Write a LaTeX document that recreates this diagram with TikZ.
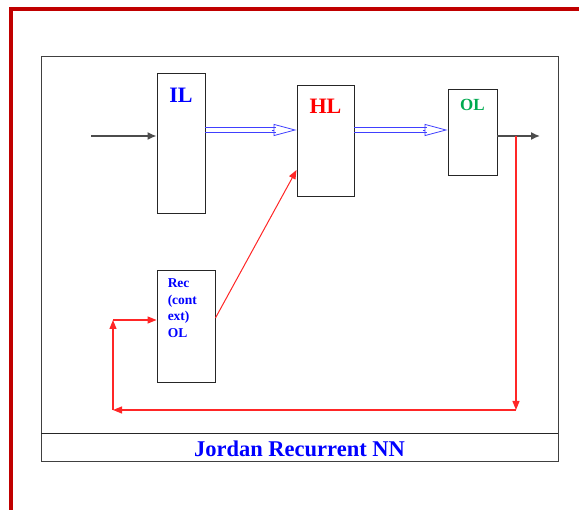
\documentclass[tikz,border=0pt]{standalone}
\usepackage{fontspec}
\setmainfont{Liberation Serif}
\usetikzlibrary{arrows.meta, positioning}
\definecolor{framered}{RGB}{192,0,0}
\definecolor{olgreen}{RGB}{0,170,80}

\begin{document}
\begin{tikzpicture}[x=1pt, y=-1pt,
    layer/.style={draw=black!85, line width=0.9pt, inner sep=0pt},
    lbl/.style={font=\bfseries\fontsize{22}{24}\selectfont, inner sep=0pt, anchor=north},
    dbl/.style={draw=blue!75, line width=0.8pt, shorten >=21pt},
    dbltip/.style={draw=blue!75, line width=0.8pt, -{Triangle[open, length=23pt, width=12pt]}},
    fb/.style={draw=red!85, line width=1.2pt, -{Triangle[length=9pt, width=7pt]}},
    plain/.style={draw=black!70, line width=1.5pt, -{Latex[length=9pt, width=8pt]}}]
  \useasboundingbox (0,0) rectangle (579,510);

  % red frame
  \draw[framered, line width=4pt] (11,510) -- (11,9) -- (579,9);

  % outer box and caption
  \draw[black!75, line width=1pt] (41,57) rectangle (558,462);
  \draw[black!85, line width=1pt] (41,434) -- (558,434);
  \node[font=\bfseries\fontsize{22.5}{24}\selectfont, text=blue] (cap) at (299.5,449) {Jordan Recurrent NN};

  % layers
  \node[layer, minimum width=48pt, minimum height=140pt] (il) at (181,143) {};
  \node[layer, minimum width=57pt, minimum height=111pt] (hl) at (325.5,140.5) {};
  \node[layer, minimum width=49pt, minimum height=86pt] (ol) at (472.5,132) {};
  \node[layer, minimum width=58pt, minimum height=112pt] (rec) at (186,326) {};

  % labels
  \node[lbl, text=blue, below=15pt of il.north] (iltxt) {IL};
  \node[lbl, text=red, below=14pt of hl.north] (hltxt) {HL};
  \node[lbl, text=olgreen, font=\bfseries\fontsize{17}{19}\selectfont, below=10pt of ol.north] (oltxt) {OL};
  \node[anchor=north west, inner sep=0pt, align=left, text=blue,
    font=\bfseries\fontsize{13.5}{16.7}\selectfont] (rectxt) at ([xshift=11pt, yshift=-9pt]rec.north west)
    {Rec\\(cont\\ext)\\OL};

  % forward path
  \coordinate (in) at (91,136);
  \coordinate (hlin) at ([yshift=10.5pt]hl.west);
  \coordinate (olin) at ([yshift=2pt]ol.west);
  \coordinate (olout) at ([yshift=-4pt]ol.east);
  \coordinate (out) at (540,136);
  \draw[plain] (in) -- (in -| il.west);
  \foreach \d in {-2.2,2.2} {
    \draw[dbl] ([yshift=\d pt]il.east |- hlin) -- ([yshift=\d pt]hlin);
    \draw[dbl] ([yshift=\d pt]hl.east |- olin) -- ([yshift=\d pt]olin);
  }
  \draw[dbltip] ([xshift=-25pt]hlin) -- (hlin);
  \draw[dbltip] ([xshift=-25pt]olin) -- (olin);
  \draw[plain] (olout) -- (out);

  % feedback path
  \coordinate (tap) at (516,136);
  \coordinate (br) at (516,410);
  \coordinate (bl) at (113,410);
  \coordinate (tl) at (113,320);
  \draw[fb] (tap) -- (br);
  \draw[fb] (br) -- (bl);
  \draw[fb] (bl) -- (tl);
  \draw[fb] (tl) -- (tl -| rec.west);
  \draw[fb, line width=1pt] ([yshift=8pt]rec.east) -- ([yshift=-29.5pt]hl.west);
\end{tikzpicture}
\end{document}
